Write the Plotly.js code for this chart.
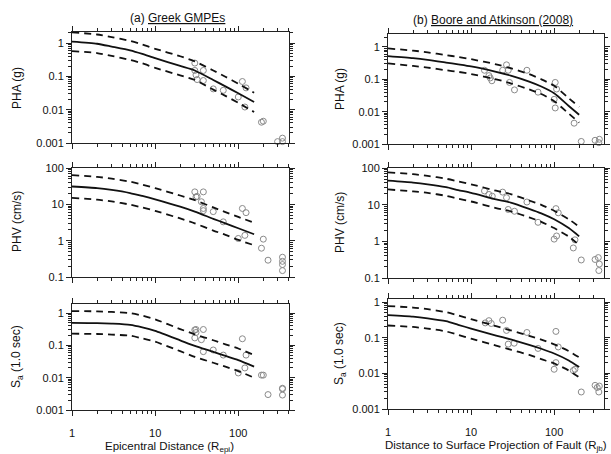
<!DOCTYPE html>
<html><head><meta charset="utf-8">
<script src="https://cdn.plot.ly/plotly-3.0.1.min.js"></script>
<style>html,body{margin:0;padding:0;background:#fff}#c{width:611px;height:454px}</style>
</head><body><div id="c"></div>
<script>
// ---- Model curves: distance grids ----
const lineXL = [1, 2, 3, 5, 7, 10, 20, 30, 50, 70, 100, 155];
const lineXR = [1, 2, 3, 5, 7, 10, 20, 30, 50, 70, 100, 150, 200];

// (a) Greek GMPEs
const phaMedA = [1.1, 0.95, 0.78, 0.6, 0.47, 0.35, 0.205, 0.15, 0.078, 0.05, 0.031, 0.017];
const phaUpA  = [2.1, 1.8, 1.5, 1.15, 0.9, 0.67, 0.4, 0.28, 0.15, 0.097, 0.06, 0.032];
const phaLoA  = [0.57, 0.5, 0.41, 0.31, 0.245, 0.18, 0.107, 0.078, 0.04, 0.026, 0.016, 0.0085];
const phvMedA = [31, 28, 25, 20.5, 17, 13.7, 8.6, 6.3, 4.0, 3.0, 2.2, 1.5];
const phvUpA  = [64, 57, 51, 42, 35, 28, 17.5, 13, 8.2, 6.1, 4.5, 3.1];
const phvLoA  = [15, 13.5, 12, 9.8, 8.2, 6.6, 4.1, 3.0, 1.9, 1.45, 1.05, 0.75];
const saMedA  = [0.5, 0.49, 0.47, 0.43, 0.36, 0.28, 0.143, 0.096, 0.063, 0.047, 0.035, 0.022];
const saUpA   = [1.15, 1.13, 1.08, 0.99, 0.83, 0.64, 0.32, 0.22, 0.144, 0.108, 0.08, 0.05];
const saLoA   = [0.23, 0.225, 0.215, 0.2, 0.165, 0.13, 0.066, 0.044, 0.029, 0.022, 0.016, 0.01];

// (b) Boore and Atkinson (2008)
const phaMedB = [0.52, 0.45, 0.4, 0.33, 0.29, 0.25, 0.17, 0.13, 0.085, 0.06, 0.037, 0.015, 0.008];
const phaUpB  = [0.9, 0.77, 0.68, 0.56, 0.49, 0.42, 0.29, 0.22, 0.145, 0.1, 0.063, 0.026, 0.014];
const phaLoB  = [0.31, 0.26, 0.23, 0.19, 0.17, 0.145, 0.1, 0.075, 0.049, 0.035, 0.021, 0.0087, 0.0046];
const phvMedB = [45, 40, 36, 30, 25, 21, 14, 11.4, 7.7, 5.8, 4, 2.3, 1.37];
const phvUpB  = [76, 68, 61, 51, 43, 36, 24, 19.4, 13, 9.9, 6.8, 4.0, 2.5];
const phvLoB  = [26, 23, 21, 17.4, 14.5, 12.2, 8.1, 6.6, 4.5, 3.4, 2.3, 1.35, 0.8];
const saMedB  = [0.43, 0.39, 0.35, 0.29, 0.23, 0.18, 0.115, 0.089, 0.063, 0.049, 0.036, 0.023, 0.015];
const saUpB   = [0.77, 0.7, 0.63, 0.52, 0.42, 0.33, 0.21, 0.16, 0.113, 0.088, 0.065, 0.042, 0.028];
const saLoB   = [0.22, 0.2, 0.18, 0.15, 0.12, 0.094, 0.06, 0.046, 0.033, 0.025, 0.019, 0.012, 0.0078];

// ---- Observations ----
const obsPhaAx = [30, 30, 31, 32, 38, 38, 50, 66, 112, 124, 100, 120, 190, 200, 297, 340, 340];
const obsPhaAy = [0.25, 0.15, 0.11, 0.08, 0.15, 0.075, 0.042, 0.038, 0.07, 0.045, 0.024, 0.012, 0.0042, 0.0045, 0.0011, 0.0014, 0.0011];
const obsPhvAx = [30, 31, 32, 38, 36, 38, 38, 50, 66, 112, 124, 100, 120, 190, 200, 228, 340, 340, 340, 340];
const obsPhvAy = [22, 16, 16.5, 22, 11.8, 7.7, 6.7, 6.3, 3.3, 7.7, 5.9, 1.15, 1.4, 0.62, 1.1, 0.29, 0.35, 0.27, 0.22, 0.15];
const obsSaAx  = [30, 31, 30, 31, 38, 36, 38, 50, 66, 112, 124, 100, 120, 190, 200, 228, 340, 340, 340];
const obsSaAy  = [0.3, 0.31, 0.17, 0.25, 0.31, 0.15, 0.064, 0.072, 0.05, 0.16, 0.05, 0.014, 0.02, 0.012, 0.012, 0.003, 0.0047, 0.0045, 0.0029];

const obsPhaBx = [14.5, 16.4, 17, 17.8, 24, 26.7, 28, 29, 33.3, 47, 64, 103, 107, 100, 103, 174, 212, 311, 350, 345];
const obsPhaBy = [0.19, 0.13, 0.11, 0.09, 0.19, 0.28, 0.19, 0.08, 0.047, 0.19, 0.04, 0.08, 0.05, 0.024, 0.013, 0.0044, 0.0012, 0.0013, 0.0014, 0.0011];
const obsPhvBx = [14.5, 16.4, 18, 24, 26.7, 28, 33.3, 47, 64, 105, 112, 100, 107, 170, 178, 212, 311, 340, 350, 345];
const obsPhvBy = [23.7, 19, 17, 22, 15.5, 7.4, 6.6, 11.8, 3.3, 7.8, 6, 1.15, 1.4, 0.66, 1.1, 0.31, 0.32, 0.36, 0.24, 0.16];
const obsSaBx  = [14.8, 16.4, 17.5, 24, 26.7, 28, 33, 47, 64, 105, 112, 100, 105, 170, 178, 212, 311, 350, 345, 330];
const obsSaBy  = [0.26, 0.3, 0.25, 0.31, 0.16, 0.066, 0.07, 0.14, 0.05, 0.15, 0.055, 0.013, 0.02, 0.012, 0.013, 0.003, 0.0046, 0.0044, 0.003, 0.004];

// ---- Tick labels ----
const xTickVals = [1, 10, 100];
const xTickText = ['1', '10', '100'];
const yTickValsSmall = [0.001, 0.01, 0.1, 1];
const yTickTextSmall = ['0.001', '0.01', '0.1', '1'];
const yTickValsPhv = [0.1, 1, 10, 100];
const yTickTextPhv = ['0.1', '1', '10', '100'];

function minorVals(lo, hi) {
  const v = [];
  for (let d = lo; d <= hi; d++) for (let k = 2; k <= 9; k++) v.push(k * Math.pow(10, d));
  return v;
}

const panels = [
  {id: 1, lx: lineXL, med: phaMedA, up: phaUpA, lo: phaLoA, ox: obsPhaAx, oy: obsPhaAy},
  {id: 2, lx: lineXL, med: phvMedA, up: phvUpA, lo: phvLoA, ox: obsPhvAx, oy: obsPhvAy},
  {id: 3, lx: lineXL, med: saMedA,  up: saUpA,  lo: saLoA,  ox: obsSaAx,  oy: obsSaAy},
  {id: 4, lx: lineXR, med: phaMedB, up: phaUpB, lo: phaLoB, ox: obsPhaBx, oy: obsPhaBy},
  {id: 5, lx: lineXR, med: phvMedB, up: phvUpB, lo: phvLoB, ox: obsPhvBx, oy: obsPhvBy},
  {id: 6, lx: lineXR, med: saMedB,  up: saUpB,  lo: saLoB,  ox: obsSaBx,  oy: obsSaBy}
];

const traces = [];
panels.forEach(p => {
  const xa = p.id === 1 ? 'x' : 'x' + p.id, ya = p.id === 1 ? 'y' : 'y' + p.id;
  traces.push({x: p.ox, y: p.oy, xaxis: xa, yaxis: ya, mode: 'markers', type: 'scatter', cliponaxis: false,
    marker: {symbol: 'circle-open', size: 6, color: '#8a8a8a', line: {width: 1, color: '#8a8a8a'}}});
  [p.up, p.lo].forEach(arr => traces.push({x: p.lx, y: arr, xaxis: xa, yaxis: ya, mode: 'lines', type: 'scatter',
    line: {color: '#111', width: 1.8, dash: '7px,5px', shape: 'spline', smoothing: 0.6}}));
  traces.push({x: p.lx, y: p.med, xaxis: xa, yaxis: ya, mode: 'lines', type: 'scatter',
    line: {color: '#111', width: 1.8, shape: 'spline', smoothing: 0.6}});
});

const W = 611, H = 454;
const colX = {L: [72 / W, 289 / W], R: [388 / W, 604 / W]};
function yd(top, bot) { return [1 - bot / H, 1 - top / H]; }
const font = {family: 'Liberation Sans, Arial, sans-serif', size: 11, color: '#111'};

function xAxis(dom, range, anchor, labels) {
  return {type: 'log', domain: dom, range: range, anchor: anchor, showline: true, linecolor: '#222', linewidth: 1,
    mirror: 'allticks', ticks: 'outside', ticklen: 5, tickcolor: '#222', tickwidth: 1, showgrid: false, zeroline: false,
    tickmode: 'array', tickvals: xTickVals, ticktext: xTickText, showticklabels: labels, tickfont: font,
    ticklabelstandoff: 8,
    minor: {tickmode: 'array', tickvals: minorVals(0, 2), ticks: 'outside', ticklen: 3, tickcolor: '#222', showgrid: false}};
}
function yAxis(dom, range, anchor, vals, text) {
  return {type: 'log', domain: dom, range: range, anchor: anchor, showline: true, linecolor: '#222', linewidth: 1,
    mirror: 'allticks', ticks: 'outside', ticklen: 5, tickcolor: '#222', tickwidth: 1, showgrid: false, zeroline: false,
    tickmode: 'array', tickvals: vals, ticktext: text, tickfont: font,
    minor: {tickmode: 'array', tickvals: minorVals(-3, 2), ticks: 'outside', ticklen: 3, tickcolor: '#222', showgrid: false}};
}

const layout = {
  width: W, height: H, margin: {l: 0, r: 0, t: 0, b: 0}, showlegend: false,
  paper_bgcolor: '#fff', plot_bgcolor: '#fff', font: font,
  xaxis:  xAxis(colX.L, [0, 2.61], 'y', false),
  yaxis:  yAxis(yd(32, 143), [-3, 0.33], 'x', yTickValsSmall, yTickTextSmall),
  xaxis2: xAxis(colX.L, [0, 2.61], 'y2', false),
  yaxis2: yAxis(yd(168, 277), [-1, 2], 'x2', yTickValsPhv, yTickTextPhv),
  xaxis3: xAxis(colX.L, [0, 2.61], 'y3', true),
  yaxis3: yAxis(yd(304, 410), [-3, 0.28], 'x3', yTickValsSmall, yTickTextSmall),
  xaxis4: xAxis(colX.R, [0, 2.6], 'y4', false),
  yaxis4: yAxis(yd(34, 144), [-3, 0.4], 'x4', yTickValsSmall, yTickTextSmall),
  xaxis5: xAxis(colX.R, [0, 2.6], 'y5', false),
  yaxis5: yAxis(yd(168, 278), [-1, 2], 'x5', yTickValsPhv, yTickTextPhv),
  xaxis6: xAxis(colX.R, [0, 2.6], 'y6', true),
  yaxis6: yAxis(yd(299, 409), [-3, 0.085], 'x6', yTickValsSmall, yTickTextSmall),
  annotations: [
    {text: '(a) <u>Greek GMPEs</u>', x: 177 / W, y: 1 - 18 / H},
    {text: '(b) <u>Boore and Atkinson (2008)</u>', x: 493 / W, y: 1 - 20 / H},
    {text: 'Epicentral Distance (R<sub>epi</sub>)', x: 169 / W, y: 1 - 447 / H, size: 11.5},
    {text: 'Distance to Surface Projection of Fault (R<sub>jb</sub>)', x: 496 / W, y: 1 - 446 / H, size: 11.5},
    {text: 'PHA (g)', x: 17 / W, y: 1 - 88 / H, rot: true},
    {text: 'PHV (cm/s)', x: 17 / W, y: 1 - 222 / H, rot: true},
    {text: 'S<sub>a</sub> (1.0 sec)', x: 17 / W, y: 1 - 357 / H, rot: true},
    {text: 'PHA (g)', x: 340 / W, y: 1 - 89 / H, rot: true},
    {text: 'PHV (cm/s)', x: 340 / W, y: 1 - 223 / H, rot: true},
    {text: 'S<sub>a</sub> (1.0 sec)', x: 340 / W, y: 1 - 354 / H, rot: true}
  ].map(a => ({text: a.text, x: a.x, y: a.y, xref: 'paper', yref: 'paper', showarrow: false,
    xanchor: 'center', yanchor: 'middle', textangle: a.rot ? -90 : 0,
    font: {family: font.family, size: a.size || 12, color: '#111'}}))
};

Plotly.newPlot('c', traces, layout, {staticPlot: true});
</script></body></html>
